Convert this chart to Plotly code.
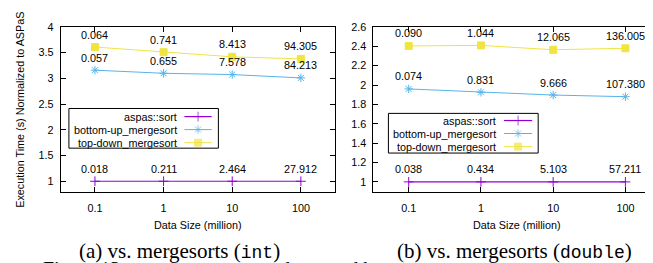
import math
import plotly.graph_objects as go

# ---------------- data ----------------
sizes = [0.1, 1, 10, 100]
size_labels = ["0.1", "1", "10", "100"]
series_names = ["aspas::sort", "bottom-up_mergesort", "top-down_mergesort"]

# (a) int : execution time normalized to ASPaS
int_aspas = [1.0, 1.0, 1.0, 1.0]
int_bottomup = [3.16, 3.10, 3.075, 3.01]
int_topdown = [3.61, 3.51, 3.42, 3.38]
# raw execution time labels (s)
int_aspas_time = [0.018, 0.211, 2.464, 27.912]
int_bottomup_time = [0.057, 0.655, 7.578, 84.213]
int_topdown_time = [0.064, 0.741, 8.413, 94.305]

# (b) double
dbl_aspas = [1.0, 1.0, 1.0, 1.0]
dbl_bottomup = [1.96, 1.925, 1.897, 1.88]
dbl_topdown = [2.405, 2.41, 2.365, 2.38]
dbl_aspas_time = [0.038, 0.434, 5.103, 57.211]
dbl_bottomup_time = [0.074, 0.831, 9.666, 107.380]
dbl_topdown_time = [0.090, 1.044, 12.065, 136.005]

MONO = "<span style='font-family:Liberation Mono;font-size:18px'>{}</span>"
captions = ["(a) vs. mergesorts (" + MONO.format("int") + ")",
            "(b) vs. mergesorts (" + MONO.format("double") + ")"]
x_title = "Data Size (million)"
y_title = "Execution Time (s) Normalized to ASPaS"
fig_caption = "Figure 13: aspas::sort vs. top-down and bottom-up mergesorts"

# ---------------- style ----------------
W, H = 653, 263
FONT = "Liberation Sans"
FS = 10.8
colors = ["#9400d3", "#56b4e9", "#f0e442"]
symbols = ["cross-thin-open", "asterisk-open", "square"]
msizes = [7, 7, 7]


def px(x):
    return x / W


def py(y):
    return 1 - y / H


panels = [
    dict(n="", xdom=(52.7, 327.7), xr=[-1.5, 2.5], yr=[0.8, 4], dtick=0.5,
         vals=[int_aspas, int_bottomup, int_topdown],
         times=[int_aspas_time, int_bottomup_time, int_topdown_time],
         box=(61, 96.7, 210.7, 137.3), textx=171.7, samp=(176.7, 204), rows=[105, 118.3, 131.7],
         cx=190, capx=172),
    dict(n="2", xdom=(366, 653), xr=[-1.488, 2.479], yr=[0.9, 2.6], dtick=0.2,
         vals=[dbl_aspas, dbl_bottomup, dbl_topdown],
         times=[dbl_aspas_time, dbl_bottomup_time, dbl_topdown_time],
         box=(381, 101.7, 531, 142.3), textx=490.7, samp=(496.7, 525), rows=[109, 122.3, 135.7],
         cx=510, capx=507),
]

fig = go.Figure()
annotations = []
shapes = []
ydom = [py(181.7), py(13.3)]

for p in panels:
    n = p["n"]
    xa, ya = "x" + n, "y" + n
    for i in range(3):
        fig.add_trace(go.Scatter(
            x=sizes, y=p["vals"][i], mode="lines+markers", name=series_names[i],
            xaxis=xa, yaxis=ya, showlegend=False,
            line=dict(color=colors[i], width=1.2 if i == 0 else 1),
            marker=dict(symbol=symbols[i], size=msizes[i], color=colors[i],
                        line=dict(color=colors[i], width=1))))
        for s, v, t in zip(sizes, p["vals"][i], p["times"][i]):
            annotations.append(dict(x=math.log10(s), y=v, xref=xa, yref=ya,
                                    text=f"{t:.3f}", showarrow=False, yshift=12.5,
                                    xanchor="center", yanchor="middle",
                                    font=dict(family=FONT, size=FS, color="black")))
    axcommon = dict(showline=True, linecolor="black", linewidth=1, mirror="allticks",
                    ticks="inside", ticklen=5, tickcolor="black", showgrid=False,
                    zeroline=False, tickfont=dict(family=FONT, size=FS, color="black"))
    fig.update_layout(**{
        "xaxis" + n: dict(domain=[px(p["xdom"][0]), px(p["xdom"][1])], type="log",
                          range=p["xr"], tickvals=sizes, ticktext=size_labels,
                          anchor=ya, ticklabelstandoff=6, **axcommon),
        "yaxis" + n: dict(domain=ydom, range=p["yr"], dtick=p["dtick"], tick0=0,
                          anchor=xa, ticklabelstandoff=4, **axcommon),
    })
    # legend box
    x0, y0, x1, y1 = p["box"]
    shapes.append(dict(type="rect", xref="paper", yref="paper",
                       x0=px(x0), x1=px(x1), y0=py(y1), y1=py(y0),
                       line=dict(color="black", width=1), fillcolor="rgba(0,0,0,0)"))
    for i in range(3):
        ry = p["rows"][i]
        annotations.append(dict(x=px(p["textx"]), y=py(ry), xref="paper", yref="paper",
                                text=series_names[i], showarrow=False,
                                xanchor="right", yanchor="middle",
                                font=dict(family=FONT, size=FS, color="black")))
        sx0, sx1 = p["samp"]
        fig.add_trace(go.Scatter(
            x=[sx0, (sx0 + sx1) / 2, sx1], y=[ry, ry, ry], mode="lines+markers",
            xaxis="x3", yaxis="y3", showlegend=False, hoverinfo="skip",
            line=dict(color=colors[i], width=1.2 if i == 0 else 1),
            marker=dict(symbol=symbols[i], size=[0, msizes[i], 0], color=colors[i],
                        line=dict(color=colors[i], width=1))))
    # x title
    annotations.append(dict(x=px(p["cx"]), y=py(215.7), xref="paper", yref="paper",
                            text=x_title, showarrow=False, xanchor="center", yanchor="middle",
                            font=dict(family=FONT, size=FS, color="black")))

annotations.append(dict(x=px(12.5), y=py(97.5), xref="paper", yref="paper",
                        text=y_title, textangle=-90, showarrow=False,
                        xanchor="center", yanchor="middle",
                        font=dict(family=FONT, size=FS, color="black")))
for cap, p in zip(captions, panels):
    annotations.append(dict(x=px(p["capx"]), y=py(242.5), xref="paper", yref="paper",
                            text=cap, showarrow=False, xanchor="center", yanchor="middle",
                            font=dict(family="Liberation Serif", size=21, color="black")))
annotations.append(dict(x=px(33), y=py(261), xref="paper", yref="paper",
                        text=fig_caption, showarrow=False, xanchor="left", yanchor="middle",
                        font=dict(family="Liberation Serif", size=20, color="black")))

fig.update_layout(
    xaxis3=dict(domain=[0, 1], range=[0, W], visible=False, anchor="y3", fixedrange=True),
    yaxis3=dict(domain=[0, 1], range=[H, 0], visible=False, anchor="x3", fixedrange=True),
    width=W, height=H, autosize=False,
    margin=dict(l=0, r=0, t=0, b=0, pad=0),
    paper_bgcolor="white", plot_bgcolor="rgba(0,0,0,0)",
    showlegend=False, annotations=annotations, shapes=shapes,
)

fig.write_html("out.html")
